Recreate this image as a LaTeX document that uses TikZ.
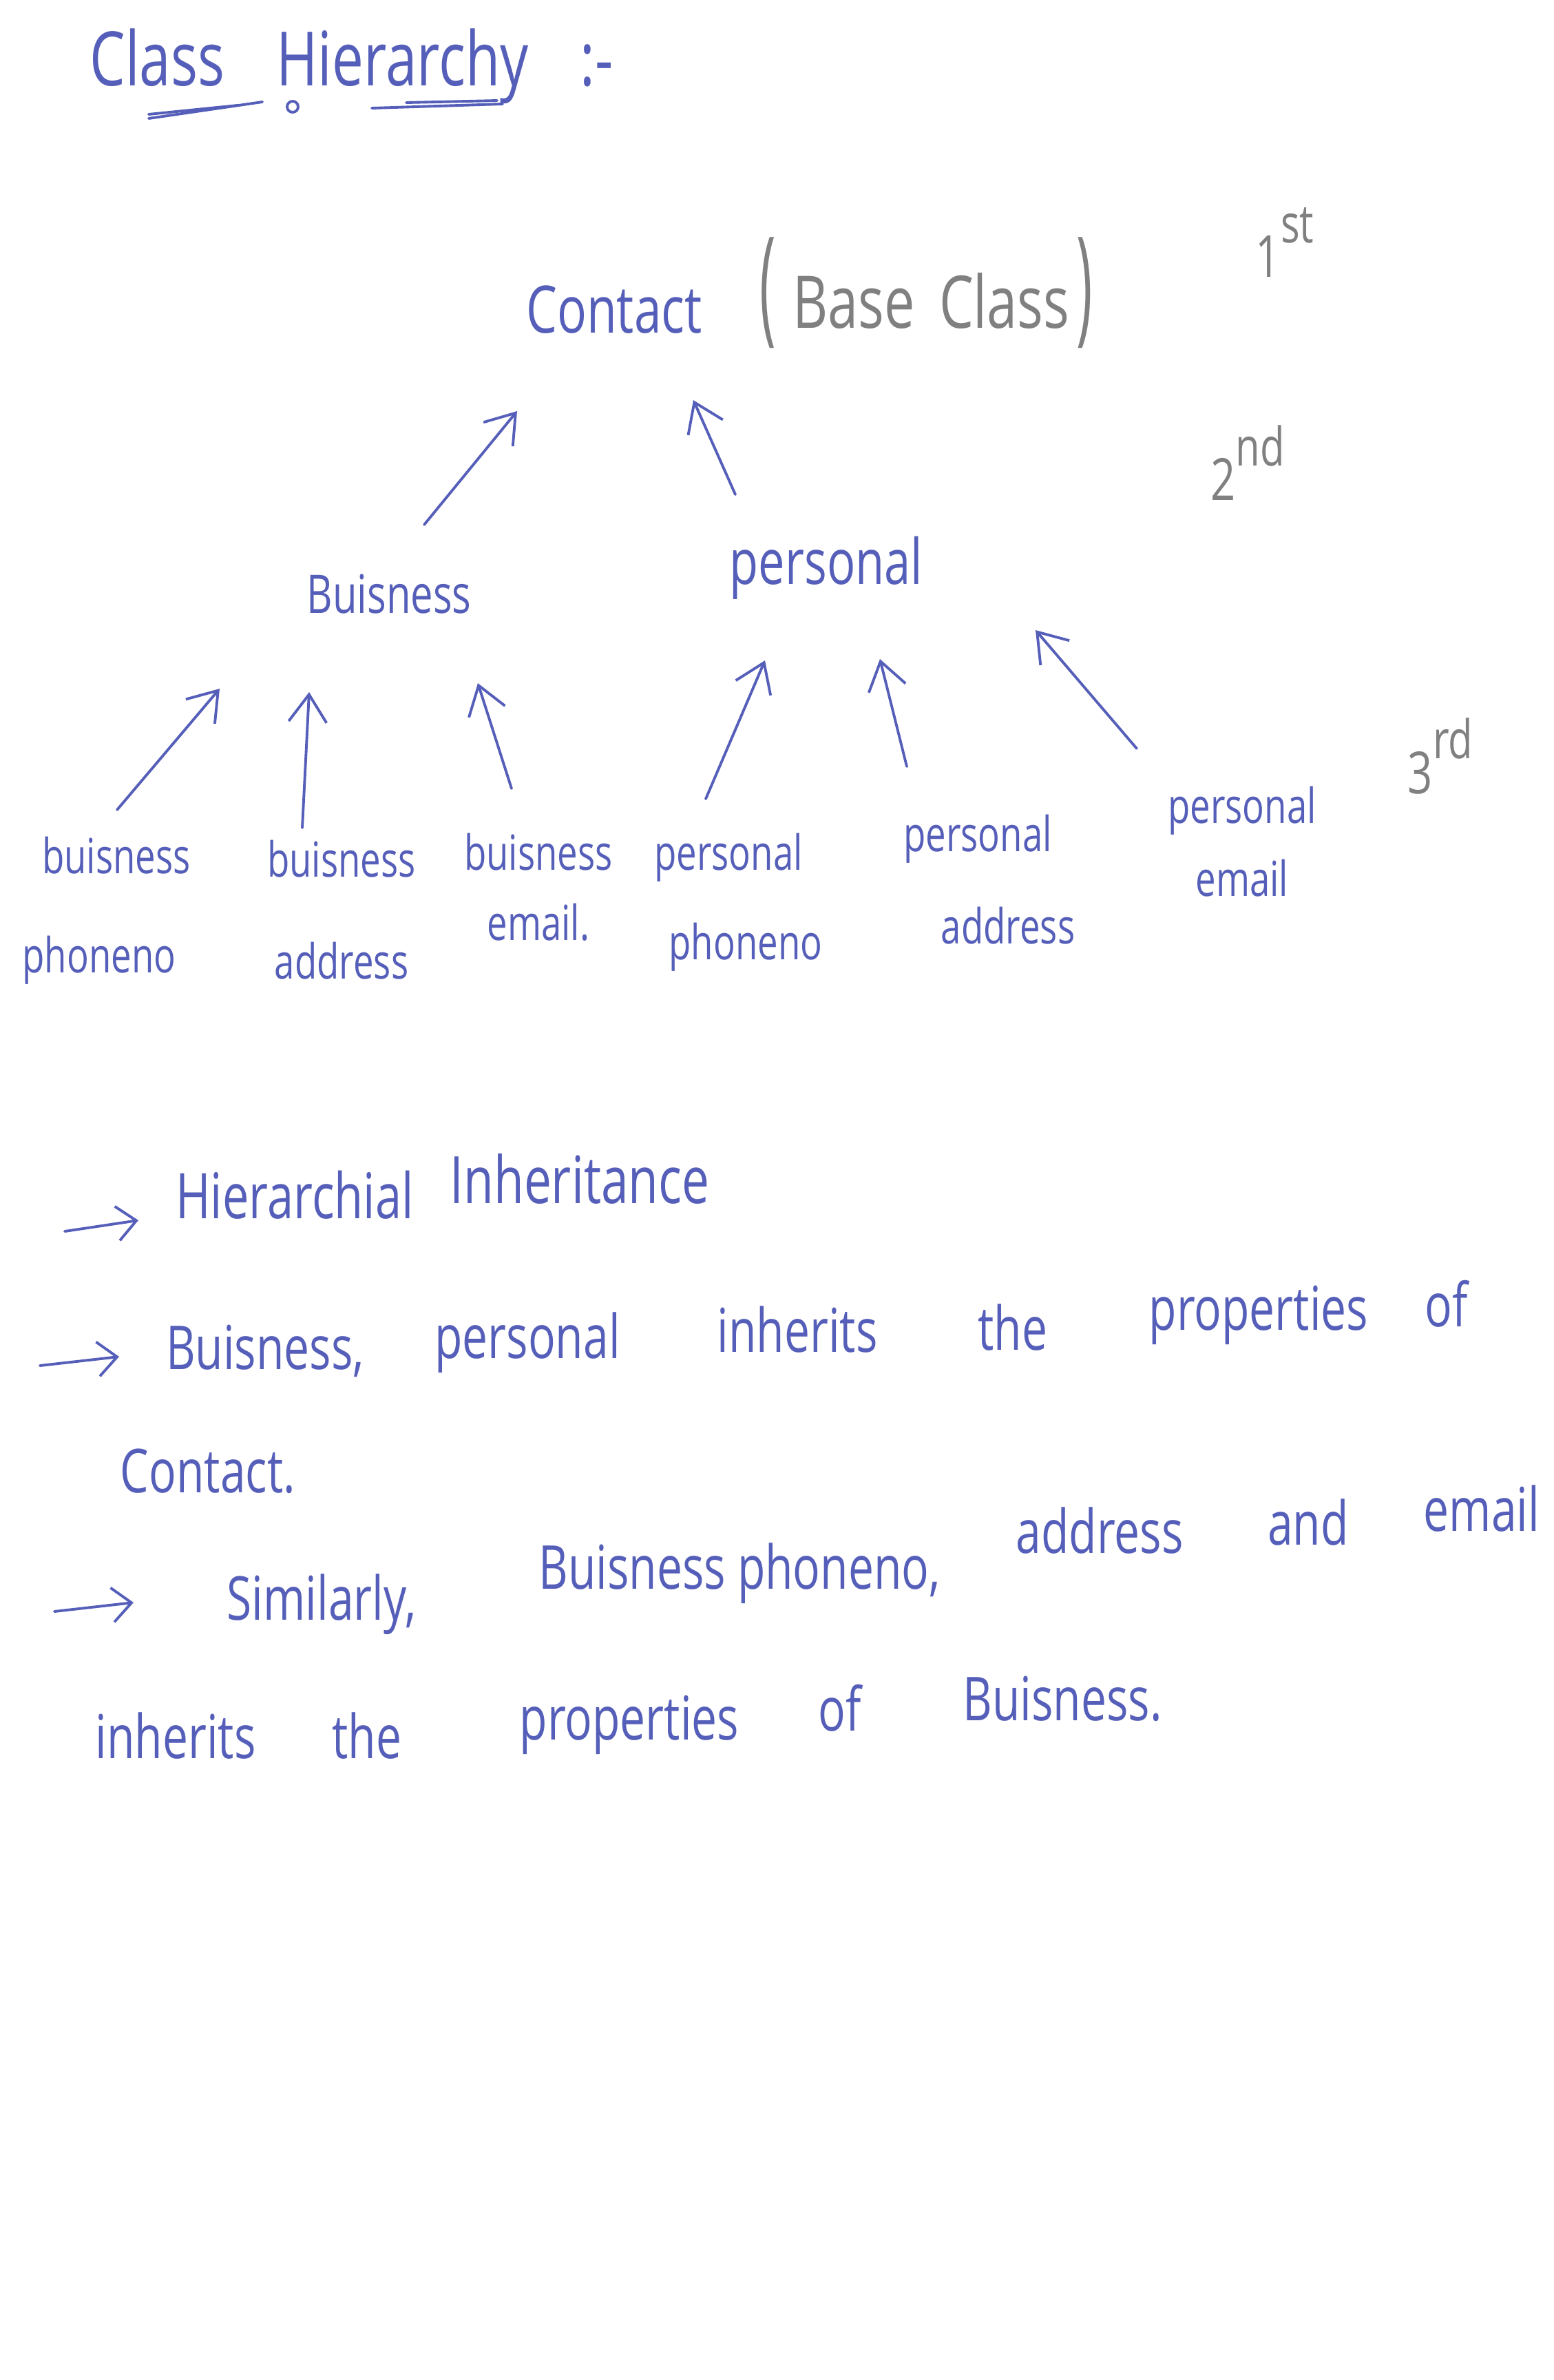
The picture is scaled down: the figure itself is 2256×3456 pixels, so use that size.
\documentclass[tikz,border=0pt]{standalone}
\usepackage{fontspec}
\setmainfont{Open Sans}
\usetikzlibrary{arrows.meta}
\definecolor{ink}{RGB}{85,95,185}
\definecolor{pencil}{RGB}{128,128,128}
\newcommand\hw[1]{\scalebox{0.75}[1]{#1}}
\begin{document}
\begin{tikzpicture}[x=0.01cm,y=-0.01cm,
  lbl/.style={text=ink, inner sep=0pt, align=center, font=\fontsize{20}{24}\selectfont},
  word/.style={text=ink, inner sep=0pt, font=\fontsize{25}{30}\selectfont},
  lvl/.style={text=pencil, inner sep=0pt, font=\fontsize{24}{24}\selectfont},
  inkline/.style={draw=ink, line width=1.1pt, line cap=round},
  arr/.style={inkline, -{Straight Barb[length=0.4cm,width=0.55cm]}},
  tarr/.style={inkline, -{Straight Barb[length=0.28cm,width=0.5cm]}}]
\fill[white] (0,0) rectangle (2256,3456);
\useasboundingbox (0,0) rectangle (2256,3456);

% title
\node[text=ink, inner sep=0pt, anchor=west, font=\fontsize{31}{36}\selectfont] (title) at (130,96)
  {\hw{Class}\hspace{0.75cm}\hw{Hierarchy}\hspace{0.75cm}\hw{:-}};
\draw[inkline] (216,172) -- (381,148);
\draw[inkline] (216,166) -- (345,153);
\draw[ink, line width=1.1pt] (425,155) circle (8);
\draw[inkline] (540,157) -- (730,151);
\draw[inkline] (590,149) -- (722,146);

% level 1
\node[text=ink, inner sep=0pt, font=\fontsize{27}{30}\selectfont] (contact) at (892,450) {\hw{Contact}};
\node[text=pencil, inner sep=0pt, font=\fontsize{30}{36}\selectfont] (base) at (1345,425)
  {\scalebox{0.75}[1.75]{(}\hspace{0.25cm}\hw{Base}\hspace{0.35cm}\hw{Class}\hspace{0.1cm}\scalebox{0.75}[1.75]{)}};
\node[lvl] (first) at (1866,352) {\hw{1}\raisebox{0.5cm}{\fontsize{22}{22}\selectfont\hw{st}}};

% level 2
\node[text=ink, inner sep=0pt, font=\fontsize{22}{26}\selectfont] (bus) at (565,862) {\hw{Buisness}};
\node[text=ink, inner sep=0pt, font=\fontsize{26}{30}\selectfont] (per) at (1200,825) {\hw{personal}};
\node[lvl] (second) at (1812,672) {\hw{2}\raisebox{0.5cm}{\fontsize{22}{22}\selectfont\hw{nd}}};

% level 3
\node[lbl] (c1) at (157,1322) {\hspace*{0.24cm}\hw{buisness}\\[17pt]\hw{phoneno}\hspace*{0.26cm}};
\node[lbl] (c2) at (496,1321) {\hw{buisness}\\[18pt]\hw{address}};
\node[lbl] (c3) at (782,1288) {\hw{buisness}\\[5pt]\hw{email.}};
\node[lbl] (c4) at (1070,1310) {\hw{personal}\hspace*{0.24cm}\\[13pt]\hspace*{0.26cm}\hw{phoneno}};
\node[lbl] (c5) at (1442,1277) {\hw{personal}\hspace*{0.44cm}\\[14pt]\hspace*{0.44cm}\hw{address}};
\node[lbl] (c6) at (1804,1222) {\hw{personal}\\[6pt]\hw{email}};
\node[lvl] (third) at (2092,1098) {\hw{3}\raisebox{0.5cm}{\fontsize{22}{22}\selectfont\hw{rd}}};

% tree arrows
\draw[arr] ([shift={(51,-100)}]bus.center) -- ([shift={(-141,147)}]contact.center);
\draw[arr] ([shift={(-132,-107)}]per.center) -- ([shift={(115,131)}]contact.center);
\draw[arr] ([shift={(13,-146)}]c1.center) -- ([shift={(-246,138)}]bus.center);
\draw[arr] ([shift={(-57,-119)}]c2.center) -- ([shift={(-116,143)}]bus.center);
\draw[arr] ([shift={(-39,-143)}]c3.center) -- ([shift={(129,130)}]bus.center);
\draw[arr] ([shift={(-45,-150)}]c4.center) -- ([shift={(-89,134)}]per.center);
\draw[arr] ([shift={(-125,-164)}]c5.center) -- ([shift={(78,132)}]per.center);
\draw[arr] ([shift={(-153,-135)}]c6.center) -- ([shift={(304,90)}]per.center);

% notes
\coordinate (t1s) at (94,1788);  \coordinate (t1e) at (201,1772);
\coordinate (t2s) at (58,1983);  \coordinate (t2e) at (173,1970);
\coordinate (t3s) at (79,2340);  \coordinate (t3e) at (194,2327);
\draw[tarr] (t1s) -- (t1e);
\draw[tarr] (t2s) -- (t2e);
\draw[tarr] (t3s) -- (t3e);

\node[word, font=\fontsize{26}{30}\selectfont] (hier) at (428,1735) {\hw{Hierarchial}};
\node[word, font=\fontsize{27}{30}\selectfont] (inh) at (842,1712) {\hw{Inheritance}};

\node[word] (l2a) at (385,1962) {\hw{Buisness,}};
\node[word] (l2b) at (766,1950) {\hw{personal}};
\node[word] (l2c) at (1158,1930) {\hw{inherits}};
\node[word] (l2d) at (1471,1928) {\hw{the}};
\node[word] (l2e) at (1828,1910) {\hw{properties}};
\node[word] (l2f) at (2101,1893) {\hw{of}};
\node[word] (l2g) at (302,2136) {\hw{Contact.}};

\node[word] (l3a) at (467,2330) {\hw{Similarly,}};
\node[word] (l3b) at (1074,2285) {\hw{Buisness phoneno,}};
\node[word] (l3c) at (1597,2222) {\hw{address}};
\node[word] (l3d) at (1900,2210) {\hw{and}};
\node[word] (l3e) at (2152,2190) {\hw{email}};

\node[word] (l4a) at (255,2520) {\hw{inherits}};
\node[word] (l4b) at (533,2520) {\hw{the}};
\node[word] (l4c) at (914,2505) {\hw{properties}};
\node[word] (l4d) at (1220,2480) {\hw{of}};
\node[word] (l4e) at (1543,2467) {\hw{Buisness.}};
\end{tikzpicture}
\end{document}
